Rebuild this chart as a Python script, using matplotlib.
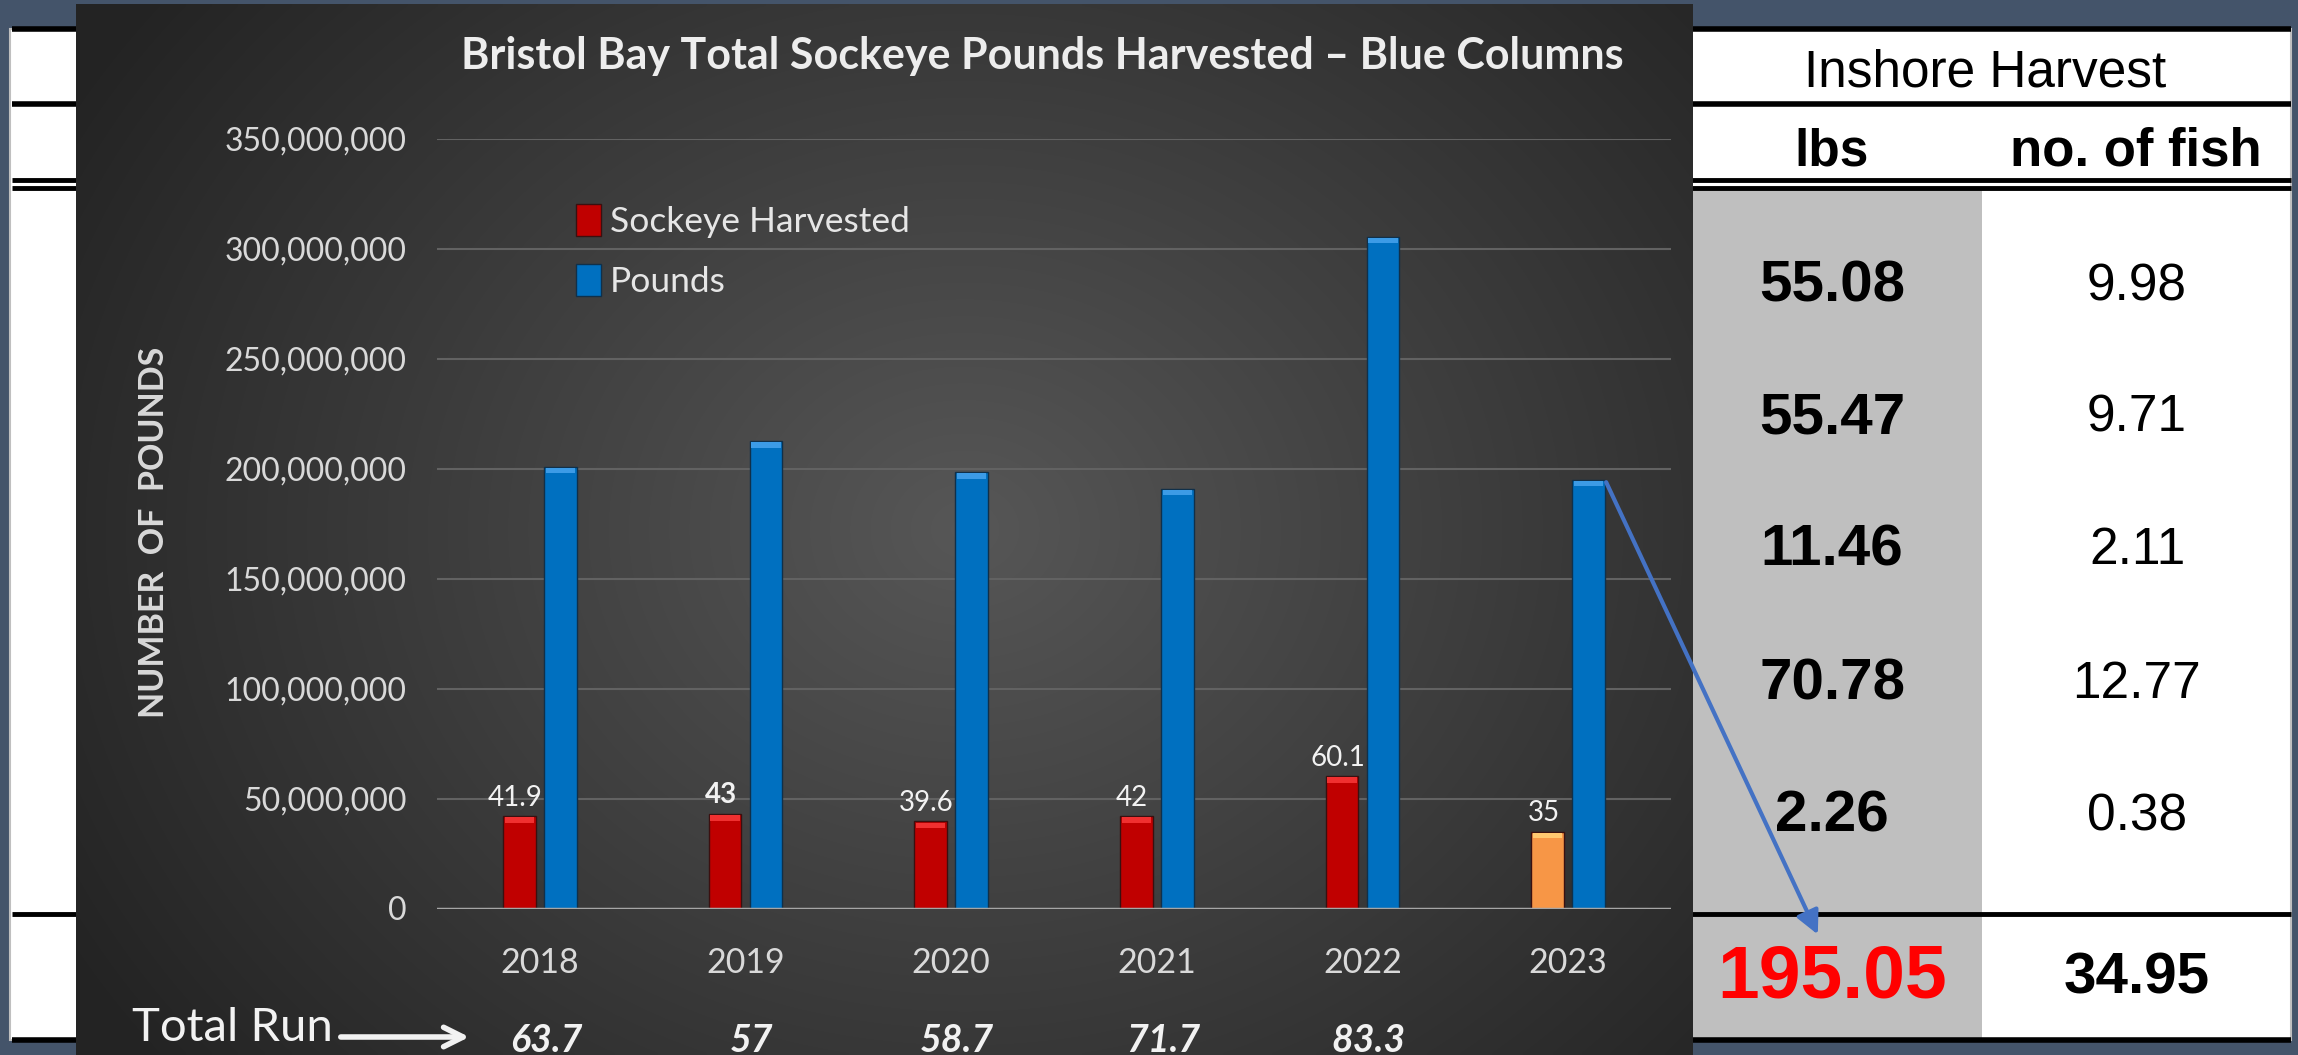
import matplotlib.pyplot as plt
import numpy as np
from matplotlib.patches import Rectangle
from matplotlib.transforms import blended_transform_factory

# chart data
years = ["2018", "2019", "2020", "2021", "2022", "2023"]
sockeye_harvested = [41.9, 43, 39.6, 42, 60.1, 35]          # millions of fish
pounds = [201e6, 212.5e6, 198.5e6, 191e6, 305.5e6, 195.05e6]
total_run = ["63.7", "57", "58.7", "71.7", "83.3"]
yticks = [0, 50e6, 100e6, 150e6, 200e6, 250e6, 300e6, 350e6]

# inshore harvest table
lbs_rows = ["55.08", "55.47", "11.46", "70.78", "2.26"]
fish_rows = ["9.98", "9.71", "2.11", "12.77", "0.38"]
lbs_total = "195.05"
fish_total = "34.95"

W, H = 2298, 1055
CHART_FONT = ["Lato", "DejaVu Sans"]
TABLE_FONT = ["Liberation Sans Narrow", "Liberation Sans", "DejaVu Sans"]

fig = plt.figure(figsize=(W / 100, H / 100), dpi=100)
fig.patch.set_facecolor("#44546A")

# background layer in pixel coords
bg = fig.add_axes([0, 0, 1, 1])
bg.set_xlim(0, W)
bg.set_ylim(H, 0)
bg.axis("off")
bg.set_facecolor("none")

# table behind chart (white with rules)
bg.add_patch(Rectangle((10, 29), 2281, 1011, facecolor="white", edgecolor="#BFBFBF", lw=1.5, zorder=1))
bg.add_patch(Rectangle((1693, 189), 289, 851, facecolor="#BFBFBF", edgecolor="none", zorder=1.5))
for y, lw in [(29, 4), (104, 4), (180, 3.5), (188, 3.5), (914, 3.5), (1040, 4)]:
    bg.plot([12, 2291], [y, y], color="black", lw=lw, zorder=2, solid_capstyle="butt")

# dark gradient chart panel
px0, px1, py0, py1 = 76, 1693, 4, 1055
gx, gy = np.meshgrid(np.linspace(0, 1, 400), np.linspace(0, 1, 260))
r = np.sqrt(((gx - 0.55) / 0.7) ** 2 + ((gy - 0.5) / 0.9) ** 2)
shade = np.clip(0.34 - 0.22 * r, 0.14, 0.34)
img = np.dstack([shade, shade, shade])
bg.imshow(img, extent=[px0, px1, py1, py0], aspect="auto", zorder=3, interpolation="bilinear")

bg.text(1042, 56, "Bristol Bay Total Sockeye Pounds Harvested \u2013 Blue Columns",
        ha="center", va="center", fontsize=31, fontweight="bold", color="#EDEDED",
        family=CHART_FONT, zorder=4)
bg.text(154, 532, "NUMBER  OF  POUNDS", rotation=90, ha="center", va="center",
        fontsize=24.5, fontweight="bold", color="#D9D9D9", family=CHART_FONT, zorder=4)

# bar chart
ax = fig.add_axes([437 / W, 1 - 908.5 / H, (1671 - 437) / W, (908.5 - 139) / H])
ax.set_zorder(5)
ax.patch.set_alpha(0)
x = np.arange(len(years))
bw = 0.158
off = 0.1
red_vals = np.array(sockeye_harvested) * 1e6
red_cols = ["#C00000"] * 5 + ["#F79646"]
red_caps = ["#F03030"] * 5 + ["#FFC870"]
ax.bar(x - off, red_vals, bw, color=red_cols, edgecolor="#3a1010", lw=1, zorder=3, label="Sockeye Harvested")
ax.bar(x - off, 2.5e6, bw * 0.9, bottom=red_vals - 3e6, color=red_caps, edgecolor="none", zorder=4)
ax.bar(x + off, pounds, bw, color="#0070C0", edgecolor="#10304a", lw=1, zorder=3, label="Pounds")
ax.bar(x + off, 2.5e6, bw * 0.9, bottom=np.array(pounds) - 3e6, color="#3C9BE6", edgecolor="none", zorder=4)

for i, v in enumerate(sockeye_harvested):
    ax.annotate(f"{v:g}", (x[i] - off - 0.02, red_vals[i]), xytext=(0, 4), textcoords="offset points",
                ha="center", va="bottom", fontsize=20, color="#F2F2F2", family=CHART_FONT,
                fontweight="bold" if i == 1 else "normal", zorder=6)

ax.set_xlim(-0.5, 5.5)
ax.set_ylim(0, 350e6)
ax.set_yticks(yticks)
ax.set_yticklabels([f"{int(t):,}" for t in yticks])
ax.set_xticks(x)
ax.set_xticklabels(years)
ax.tick_params(length=0, colors="#D9D9D9", labelsize=23)
ax.tick_params(axis="y", pad=22)
ax.tick_params(axis="x", pad=28, labelsize=24.5)
for lab in ax.get_xticklabels() + ax.get_yticklabels():
    lab.set_family(CHART_FONT)
for t in yticks[1:]:
    ax.axhline(t, color="#626262", lw=1.5, zorder=1)
ax.axhline(0, color="#A6A6A6", lw=2.5, zorder=5)
for s in ax.spines.values():
    s.set_visible(False)

leg = ax.legend(loc="upper left", bbox_to_anchor=(544 / W, 1 - 172 / H), bbox_transform=fig.transFigure,
                frameon=False, labelcolor="#E6E6E6", handlelength=0.7, handleheight=1.0,
                handletextpad=0.25, labelspacing=0.75, prop={"family": CHART_FONT, "size": 25.5})

# total run row
bt = blended_transform_factory(ax.transData, bg.transData)
bg.text(132, 1028, "Total Run", ha="left", va="center", fontsize=34, color="#F2F2F2",
        family=CHART_FONT, zorder=4)
bg.annotate("", xy=(472, 1037), xytext=(338, 1037),
            arrowprops=dict(arrowstyle="->", color="#F2F2F2", lw=4, mutation_scale=35), zorder=4)
for i, v in enumerate(total_run):
    ax.text(x[i] + 0.03, 1040, v, transform=bt, ha="center", va="center", fontsize=27,
            fontweight="bold", style="italic", color="#F2F2F2", family=CHART_FONT, clip_on=False)

# right-hand table text
bg.text(1985, 73, "Inshore Harvest", ha="center", va="center", fontsize=37, family=TABLE_FONT, zorder=4)
bg.text(1832, 152, "lbs", ha="center", va="center", fontsize=37, fontweight="bold", family=TABLE_FONT, zorder=4)
bg.text(2136, 152, "no. of fish", ha="center", va="center", fontsize=38, fontweight="bold", family=TABLE_FONT, zorder=4)
row_y = [287, 418, 551, 684, 817]
for yv, a, b in zip(row_y, lbs_rows, fish_rows):
    bg.text(1832, yv, a, ha="center", va="center", fontsize=42, fontweight="bold", family=TABLE_FONT, zorder=4)
    bg.text(2137, yv, b, ha="center", va="center", fontsize=37, family=TABLE_FONT, zorder=4)
bg.text(1832, 978, lbs_total, ha="center", va="center", fontsize=54, fontweight="bold", color="#FF0000",
        family=TABLE_FONT, zorder=4)
bg.text(2137, 978, fish_total, ha="center", va="center", fontsize=42, fontweight="bold", family=TABLE_FONT, zorder=4)

# blue arrow from 2023 pounds bar to the table total
ax.annotate("", xy=(1819, 937), xycoords=bg.transData, xytext=(x[5] + off + bw / 2, pounds[5]),
            textcoords="data",
            arrowprops=dict(arrowstyle="-|>", color="#4472C4", lw=3, mutation_scale=35), zorder=10)

fig.savefig("out.png", dpi=100, facecolor=fig.get_facecolor())
